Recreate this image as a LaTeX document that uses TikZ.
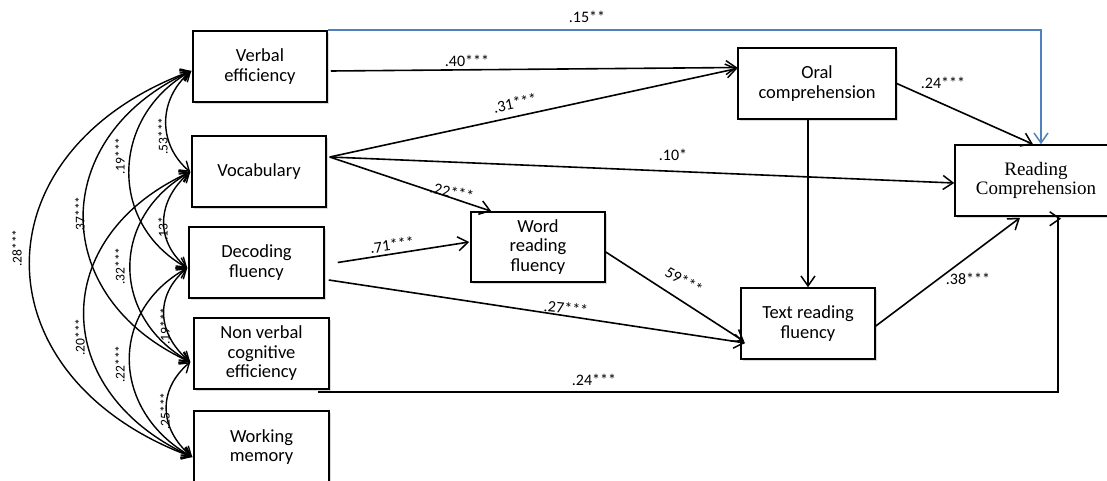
\documentclass[tikz,border=0pt]{standalone}
\usepackage{fontspec}
\setmainfont{Carlito}
\newfontfamily\tnr{Liberation Serif}
\usetikzlibrary{arrows.meta,shadows}
\definecolor{blueline}{RGB}{79,129,189}
\begin{document}
\begin{tikzpicture}[x=1pt,y=-1pt,
  box/.style={draw, line width=1.5pt, fill=white, inner sep=0pt, align=center,
    font=\fontsize{18.5}{19.5}\selectfont,
    drop shadow={shadow xshift=2pt,shadow yshift=-2pt,opacity=0.3}},
  conn/.style={line width=1.6pt, -{Straight Barb[length=10pt,width=14pt,line width=1.5pt]}},
  corr/.style={line width=1.4pt, {Straight Barb[length=9pt,width=12pt]}-{Straight Barb[length=9pt,width=12pt]}},
  lab/.style={font=\fontsize{16}{16}\selectfont, inner sep=0pt},
  vlab/.style={font=\fontsize{13.5}{13.5}\selectfont, inner sep=0pt, rotate=90},
]
\useasboundingbox (0,0) rectangle (1107,481);

% boxes
\node[box, minimum width=134pt, minimum height=71pt] (ve) at (260,66.5) {Verbal\\efficiency};
\node[box, minimum width=134pt, minimum height=71pt] (voc) at (259,171.5) {Vocabulary};
\node[box, minimum width=135pt, minimum height=71pt] (dec) at (256.5,262.5) {Decoding\\fluency};
\node[box, minimum width=135pt, minimum height=71pt] (nv) at (261.5,353.5) {Non verbal\\cognitive\\efficiency};
\node[box, minimum width=135pt, minimum height=72pt] (wm) at (261.5,447) {Working\\memory};
\node[box, minimum width=134pt, minimum height=70pt] (word) at (538,247) {Word\\reading\\fluency};
\node[box, minimum width=158pt, minimum height=71pt] (oc) at (817,83.5) {Oral\\comprehension};
\node[box, minimum width=134pt, minimum height=71pt] (tr) at (808,323.5) {Text reading\\fluency};
\node[box, minimum width=162pt, minimum height=71pt, font=\tnr\fontsize{19}{19.5}\selectfont] (rc) at (1036,180.5) {Reading\\Comprehension};

% correlation end points
\coordinate (pve) at ([shift={(-1,4.5)}]ve.west);
\coordinate (pvoc) at ([shift={(-1,0.5)}]voc.west);
\coordinate (pdec) at ([shift={(-1,5.5)}]dec.west);
\coordinate (pnv) at ([shift={(-3,8.5)}]nv.west);
\coordinate (pwm) at ([shift={(-1,10)}]wm.west);

% span 1
\draw[corr] (pve) .. controls +(-33,28) and +(-33,-28) .. (pvoc);
\draw[corr] (pvoc) .. controls +(-33,28) and +(-33,-28) .. (pdec);
\draw[corr] (pdec) .. controls +(-33,28) and +(-33,-28) .. (pnv);
\draw[corr] (pnv) .. controls +(-33,28) and +(-33,-28) .. (pwm);
% span 2
\draw[corr] (pve) .. controls +(-80,45) and +(-80,-45) .. (pdec);
\draw[corr] (pvoc) .. controls +(-80,45) and +(-80,-45) .. (pnv);
\draw[corr] (pdec) .. controls +(-80,45) and +(-80,-45) .. (pwm);
% span 3
\draw[corr] (pve) .. controls +(-143,65) and +(-143,-65) .. (pnv);
\draw[corr] (pvoc) .. controls +(-143,65) and +(-143,-65) .. (pwm);
% span 4
\draw[corr] (pve) .. controls +(-216,80) and +(-216,-80) .. (pwm);

% correlation labels
\node[vlab] (c1) at (163,136) {.53***};
\node[vlab] (c2) at (120,156) {.19***};
\node[vlab] (c3) at (80,215) {.37***};
\node[vlab] (c4) at (17,248) {.28***};
\node[vlab] (c5) at (163,229) {.13*};
\node[vlab] (c6) at (120,266) {.32***};
\node[vlab] (c7) at (80,337) {.20***};
\node[vlab] (c8) at (165,326) {.19***};
\node[vlab] (c9) at (120,364) {.22***};
\node[vlab] (c10) at (165,411) {.25***};

% paths
\draw[conn, draw=blueline] (ve.north east) -| ([xshift=5pt]rc.north);
\draw[conn] ([shift={(3,4.5)}]ve.east) -- ([shift={(0,-16)}]oc.west);
\draw[conn] ([shift={(3,-14.5)}]voc.east) -- ([shift={(0,-15)}]oc.west);
\draw[conn] ([shift={(3,-14.5)}]voc.east) -- ([shift={(0,2.5)}]rc.west);
\draw[conn] ([shift={(3,-14.5)}]voc.east) -- ([shift={(21,0)}]word.north west);
\draw[conn] ([shift={(13,0)}]dec.east) -- ([shift={(-1,-5)}]word.west);
\draw[conn] ([shift={(4,17.5)}]dec.east) -- ([shift={(5,19.5)}]tr.west);
\draw[conn] ([shift={(0,5)}]word.east) -- ([shift={(4,18)}]tr.west);
\draw[conn] (oc.south -| tr.north) -- (tr.north);
\draw[conn] (oc.east) -- ([xshift=-3pt]rc.north);
\draw[conn] ([shift={(0,2.5)}]tr.east) -- ([shift={(-16,1)}]rc.south);
\draw[conn] ([shift={(-12,2)}]nv.south east) -| ([shift={(22,2)}]rc.south) -- ++(3,0);

% path labels
\node[lab] (l15) at (587,17) {.15**};
\node[lab] (l40) at (467,61) {.40***};
\node[lab, rotate=12] (l31) at (515,103) {.31***};
\node[lab] (l10) at (673,155) {.10*};
\node[lab, rotate=-12] (l22) at (452,192) {.22***};
\node[lab, rotate=8] (l71) at (392,245) {.71***};
\node[lab, rotate=-6] (l27) at (566,308) {.27***};
\node[lab, rotate=-30] (l59) at (684,281) {59***};
\node[lab] (l24a) at (943,83) {.24***};
\node[lab] (l38) at (968,279) {.38***};
\node[lab] (l24b) at (594,380) {.24***};
\end{tikzpicture}
\end{document}
